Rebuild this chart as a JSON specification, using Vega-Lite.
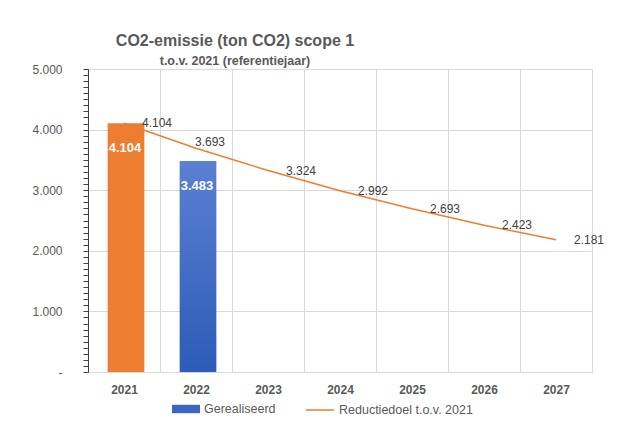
{
  "$schema": "https://vega.github.io/schema/vega-lite/v6.json",
  "width": 504,
  "height": 303,
  "autosize": "none",
  "padding": {"left": 88, "top": 69, "right": 41, "bottom": 55},
  "background": "white",
  "config": {
    "locale": {"number": {"decimal": ",", "thousands": ".", "grouping": [3], "currency": ["€", ""]}},
    "font": "Liberation Sans",
    "view": {"stroke": "#d9d9d9"}
  },
  "title": {
    "text": "CO2-emissie (ton CO2) scope 1",
    "subtitle": "t.o.v. 2021 (referentiejaar)",
    "anchor": "middle",
    "dx": -105,
    "dy": 4,
    "offset": 0,
    "fontSize": 16,
    "fontWeight": "bold",
    "color": "#595959",
    "subtitleFontSize": 12.5,
    "subtitleFontWeight": "bold",
    "subtitleColor": "#595959",
    "subtitlePadding": 6
  },
  "data": {
    "values": [
      {"year": "2021", "series": "Gerealiseerd", "value": 4104},
      {"year": "2022", "series": "Gerealiseerd", "value": 3483},
      {"year": "2021", "series": "Reductiedoel t.o.v. 2021", "value": 4104},
      {"year": "2022", "series": "Reductiedoel t.o.v. 2021", "value": 3693},
      {"year": "2023", "series": "Reductiedoel t.o.v. 2021", "value": 3324},
      {"year": "2024", "series": "Reductiedoel t.o.v. 2021", "value": 2992},
      {"year": "2025", "series": "Reductiedoel t.o.v. 2021", "value": 2693},
      {"year": "2026", "series": "Reductiedoel t.o.v. 2021", "value": 2423},
      {"year": "2027", "series": "Reductiedoel t.o.v. 2021", "value": 2181}
    ]
  },
  "encoding": {
    "x": {
      "field": "year",
      "type": "ordinal",
      "scale": {"paddingInner": 0, "paddingOuter": 0},
      "axis": {
        "title": null,
        "labelAngle": 0,
        "labelFontWeight": "bold",
        "labelFontSize": 12,
        "labelColor": "#595959",
        "labelPadding": 12,
        "ticks": false,
        "tickBand": "extent",
        "grid": true,
        "gridColor": "#d9d9d9",
        "domainColor": "#d9d9d9"
      }
    },
    "y": {
      "field": "value",
      "type": "quantitative",
      "scale": {"domain": [0, 5000], "nice": false},
      "axis": {
        "title": null,
        "values": [0,100,200,300,400,500,600,700,800,900,1000,1100,1200,1300,1400,1500,1600,1700,1800,1900,2000,2100,2200,2300,2400,2500,2600,2700,2800,2900,3000,3100,3200,3300,3400,3500,3600,3700,3800,3900,4000,4100,4200,4300,4400,4500,4600,4700,4800,4900,5000],
        "format": ",d",
        "labelExpr": "datum.value === 0 ? '-' : (datum.value % 1000 === 0 ? datum.label : '')",
        "labelOverlap": false,
        "labelFontSize": 12,
        "labelColor": "#595959",
        "labelPadding": 21,
        "tickSize": 5,
        "tickColor": "#404040",
        "domainColor": "#404040",
        "grid": true,
        "gridColor": "#d9d9d9",
        "gridOpacity": {"condition": {"test": "datum.value % 1000 === 0", "value": 1}, "value": 0}
      }
    }
  },
  "layer": [
    {
      "transform": [{"filter": "datum.series === 'Gerealiseerd'"}],
      "mark": {"type": "bar", "width": {"band": 0.51}, "xOffset": 2},
      "encoding": {
        "fill": {
          "condition": [
            {"test": "datum.year === '2021'", "value": "#ED7D31"},
            {"test": "datum.year === '2022'", "value": {"gradient": "linear", "x1": 0, "y1": 0, "x2": 0, "y2": 1, "stops": [{"offset": 0, "color": "#5B80D4"}, {"offset": 1, "color": "#2D5BB7"}]}}
          ],
          "field": "series",
          "type": "nominal",
          "scale": {"range": ["#3A66C4"]},
          "legend": {
            "orient": "none",
            "legendX": 84,
            "legendY": 326,
            "title": null,
            "symbolType": "M-1,-0.3H1V0.3H-1Z",
            "symbolSize": 784,
            "symbolStrokeWidth": 0,
            "labelFontSize": 12.5,
            "labelColor": "#595959",
            "labelOffset": 4
          }
        }
      }
    },
    {
      "transform": [{"filter": "datum.series === 'Gerealiseerd'"}],
      "mark": {"type": "text", "baseline": "top", "dy": 19, "dx": 1, "fontWeight": "bold", "fontSize": 13, "color": "white"},
      "encoding": {
        "text": {"field": "value", "type": "quantitative", "format": ",d"}
      }
    },
    {
      "transform": [{"filter": "datum.series !== 'Gerealiseerd'"}],
      "mark": {"type": "line", "strokeWidth": 1.5},
      "encoding": {
        "stroke": {
          "field": "series",
          "type": "nominal",
          "scale": {"range": ["#ED7D31"]},
          "legend": {
            "orient": "none",
            "legendX": 217,
            "legendY": 326,
            "title": null,
            "symbolType": "stroke",
            "symbolSize": 784,
            "symbolStrokeWidth": 1.5,
            "labelFontSize": 12.5,
            "labelColor": "#595959",
            "labelOffset": 4
          }
        }
      }
    },
    {
      "transform": [{"filter": "datum.series !== 'Gerealiseerd' && datum.year !== '2022'"}],
      "mark": {"type": "text", "dx": 33, "dy": 0, "fontSize": 12, "color": "#404040"},
      "encoding": {
        "text": {"field": "value", "type": "quantitative", "format": ",d"}
      }
    },
    {
      "transform": [{"filter": "datum.series !== 'Gerealiseerd' && datum.year === '2022'"}],
      "mark": {"type": "text", "dx": 14, "dy": -6, "fontSize": 12, "color": "#404040"},
      "encoding": {
        "text": {"field": "value", "type": "quantitative", "format": ",d"}
      }
    }
  ]
}
